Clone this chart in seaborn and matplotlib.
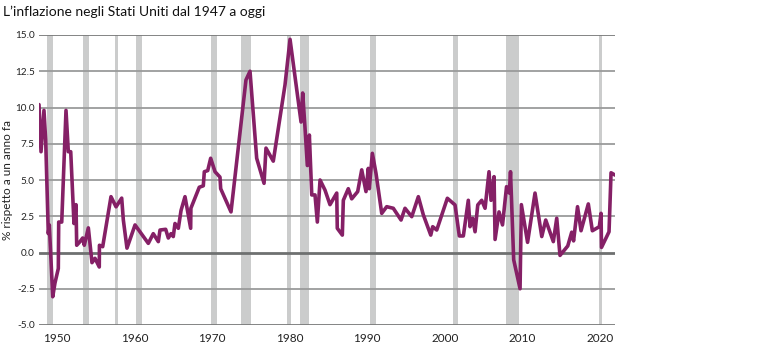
import matplotlib
matplotlib.use("Agg")
import matplotlib.pyplot as plt
import seaborn as sns
import pandas as pd

years = [1947.68, 1947.94, 1948.32, 1948.54, 1948.88, 1949.01, 1949.45, 1949.74, 1950.17, 1950.22,
         1950.61, 1951.16, 1951.46, 1951.77, 1952.19, 1952.45, 1952.54, 1952.97, 1953.31, 1953.52,
         1954.04, 1954.51, 1954.90, 1955.45, 1955.47, 1955.89, 1956.96, 1957.61, 1958.34, 1958.55,
         1959.02, 1960.06, 1961.77, 1962.41, 1963.06, 1963.28, 1964.01, 1964.35, 1964.70, 1964.99,
         1965.21, 1965.64, 1965.99, 1966.50, 1967.23, 1967.26, 1968.34, 1968.86, 1968.99, 1969.43,
         1969.81, 1970.37, 1971.01, 1971.10, 1972.43, 1974.36, 1974.88, 1975.74, 1976.69, 1976.94,
         1977.88, 1979.39, 1980.04, 1981.46, 1981.67, 1981.97, 1982.27, 1982.53, 1982.84, 1983.26,
         1983.56, 1983.91, 1984.55, 1985.19, 1986.06, 1986.13, 1986.78, 1986.91, 1987.55, 1987.99,
         1988.76, 1989.28, 1989.83, 1990.13, 1990.26, 1990.65, 1991.12, 1991.86, 1992.50, 1993.35,
         1994.35, 1994.86, 1995.73, 1996.58, 1997.22, 1998.18, 1998.43, 1998.95, 2000.32, 2001.31,
         2001.86, 2002.38, 2003.02, 2003.24, 2003.59, 2003.89, 2004.24, 2004.75, 2005.18, 2005.69,
         2005.95, 2006.34, 2006.47, 2006.98, 2007.43, 2007.95, 2008.31, 2008.46, 2008.87, 2009.69,
         2009.86, 2010.66, 2011.62, 2012.49, 2013.00, 2013.98, 2014.42, 2014.84, 2015.84, 2016.35,
         2016.59, 2017.10, 2017.55, 2018.49, 2019.01, 2019.91, 2020.13, 2020.19, 2021.16, 2021.42,
         2021.93]
inflation = [10.2, 6.95, 9.8, 7.76, 1.3, 1.9, -3.05, -2.1, -1.1, 2.1,
             2.1, 9.8, 6.95, 6.95, 2.0, 3.3, 0.5, 0.75, 1.0, 0.5,
             1.7, -0.7, -0.4, -1.0, 0.5, 0.4, 3.85, 3.15, 3.75, 2.25,
             0.3, 1.9, 0.63, 1.3, 0.75, 1.55, 1.6, 1.0, 1.3, 1.1,
             2.0, 1.67, 2.9, 3.85, 1.67, 3.05, 4.5, 4.6, 5.57, 5.65,
             6.5, 5.57, 5.2, 4.4, 2.8, 11.9, 12.5, 6.5, 4.77, 7.2,
             6.3, 11.55, 14.7, 9.0, 11.0, 8.6, 6.0, 8.1, 3.97, 3.97,
             2.1, 5.0, 4.3, 3.3, 4.1, 1.67, 1.2, 3.6, 4.4, 3.7,
             4.2, 5.7, 4.2, 5.8, 4.4, 6.84, 5.46, 2.7, 3.16, 3.05,
             2.24, 3.05, 2.47, 3.85, 2.6, 1.2, 1.78, 1.55, 3.74, 3.28,
             1.14, 1.14, 3.6, 1.78, 2.36, 1.43, 3.28, 3.6, 3.05, 5.57,
             3.6, 5.23, 0.9, 2.8, 1.9, 4.54, 4.1, 5.57, -0.5, -2.5,
             3.3, 0.7, 4.1, 1.1, 2.24, 0.75, 2.36, -0.2, 0.45, 1.4,
             0.8, 3.16, 1.5, 3.35, 1.5, 1.78, 2.7, 0.35, 1.43, 5.5,
             5.34]

recession_start = [1948.67, 1953.31, 1957.48, 1960.18, 1969.85, 1973.72, 1979.61, 1981.33,
                   1990.35, 2001.05, 2007.88, 2019.87]
recession_end = [1949.45, 1954.09, 1957.86, 1960.96, 1970.63, 1975.01, 1980.13, 1982.53,
                 1991.09, 2001.73, 2009.56, 2020.26]

x_ticks = [1950, 1960, 1970, 1980, 1990, 2000, 2010, 2020]
y_ticks = [-5.0, -2.5, 0.0, 2.5, 5.0, 7.5, 10.0, 12.5, 15.0]

title = "L\u2019inflazione negli Stati Uniti dal 1947 a oggi"
ylabel = "% rispetto a un anno fa"

sns.set_style("white")
plt.rcParams["font.family"] = ["Lato", "DejaVu Sans"]

df = pd.DataFrame({"anno": years, "inflazione": inflation})

fig = plt.figure(figsize=(7.7, 3.49), dpi=100)
ax = fig.add_axes([39 / 770, 1 - 325 / 349, (615 - 39) / 770, (325 - 35) / 349])

for s, e in zip(recession_start, recession_end):
    ax.axvspan(s, e, color="#cbcccc", lw=0, zorder=0)

for v in y_ticks:
    if v == 0.0:
        ax.axhline(v, color="#6e7070", lw=2.0, zorder=1)
    elif v in (15.0, -5.0):
        ax.axhline(v, color="#7a7b7b", lw=1.3, zorder=1)
    else:
        ax.axhline(v, color="#9a9b9b", lw=1.3, zorder=1)

sns.lineplot(data=df, x="anno", y="inflazione", ax=ax, color="#852066", lw=2.6,
             zorder=3, estimator=None, sort=False)

ax.set_xlim(years[0], years[-1])
ax.set_ylim(-5.0, 15.0)
ax.set_xticks(x_ticks)
ax.set_xticklabels([str(t) for t in x_ticks], fontsize=8.5, color="#222222")
ax.set_yticks(y_ticks)
ax.set_yticklabels([f"{t:.1f}" for t in y_ticks], fontsize=7.2, color="#222222")
ax.tick_params(axis="both", length=0, pad=3)
ax.tick_params(axis="x", pad=6)
ax.set_xlabel("")
ax.set_ylabel("")
ax.grid(False)
for sp in ax.spines.values():
    sp.set_visible(False)

fig.text(8 / 770, 1 - 180 / 349, ylabel, fontsize=8.5, color="#222222", rotation=90,
         va="center", ha="center")
fig.text(3 / 770, 1 - 12 / 349, title, fontsize=10, color="#111111", va="center", ha="left")

fig.savefig("out.png", dpi=100)
